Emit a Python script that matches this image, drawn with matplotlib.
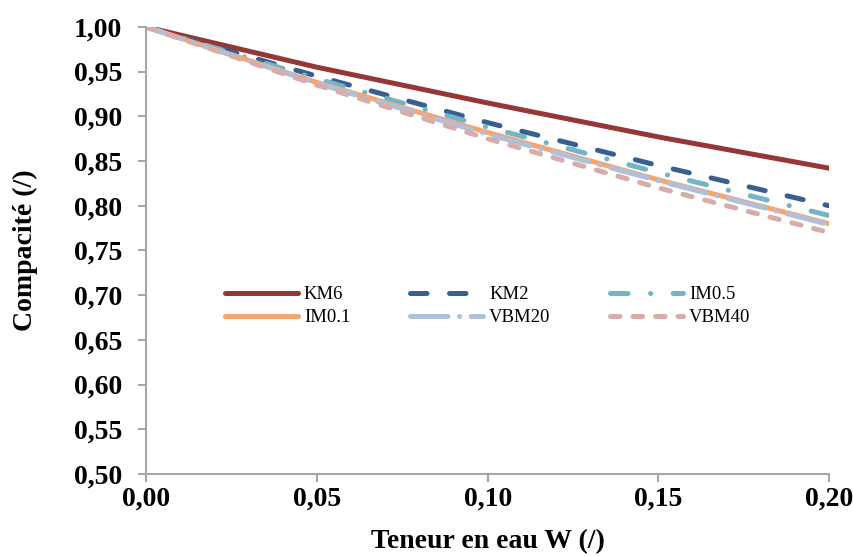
import matplotlib.pyplot as plt

plt.rcParams['font.family'] = ['Liberation Serif', 'DejaVu Serif']

# teneur en eau W
w = [0.00, 0.05, 0.10, 0.15, 0.20]

km6 = [1.000, 0.955, 0.915, 0.877, 0.842]
km2 = [1.000, 0.945, 0.893, 0.845, 0.800]
im05 = [1.000, 0.942, 0.888, 0.837, 0.789]
im01 = [1.000, 0.938, 0.882, 0.829, 0.780]
vbm20 = [1.000, 0.937, 0.880, 0.828, 0.779]
vbm40 = [1.000, 0.935, 0.875, 0.820, 0.770]

names = ["KM6", "KM2", "IM0.5", "IM0.1", "VBM20", "VBM40"]
series = [km6, km2, im05, im01, vbm20, vbm40]
colors = ["#953735", "#376092", "#72b4c8", "#f8a46e", "#b0c0da", "#d9aca9"]
dashes = [None, (3.3, 4.5), (3.5, 4.5, 0.05, 4.5), None,
          (7.5, 2.3, 0.05, 2.3), (1.9, 2.6)]

fig = plt.figure(figsize=(8.54, 5.56), dpi=100)
ax = fig.add_axes([0.171, 0.1475, 0.80, 0.804])

handles = []
for name, y, c, d in zip(names, series, colors, dashes):
    line, = ax.plot(w, y, color=c, lw=3.6, label=name, solid_capstyle='round',
                    dash_capstyle='round')
    if d is not None:
        line.set_dashes(d)
    handles.append(line)

ax.set_xlim(0, 0.20)
ax.set_ylim(0.50, 1.00)
ax.set_xticks([0.00, 0.05, 0.10, 0.15, 0.20])
ax.set_xticklabels(["0,00", "0,05", "0,10", "0,15", "0,20"])
yt = [0.50 + 0.05 * i for i in range(11)]
ax.set_yticks(yt)
ax.set_yticklabels([("%.2f" % v).replace(".", ",") for v in yt])

for s in ["top", "right"]:
    ax.spines[s].set_visible(False)
for s in ["left", "bottom"]:
    ax.spines[s].set_color("#a6a6a6")
    ax.spines[s].set_linewidth(1.5)
ax.tick_params(direction='out', length=6, width=1.5, color="#a6a6a6",
               labelsize=20)
ax.tick_params(axis='y', pad=11)
ax.tick_params(axis='x', pad=3)
for lab in ax.get_xticklabels() + ax.get_yticklabels():
    lab.set_fontweight("bold")

ax.set_xlabel("Teneur en eau W (/)", fontsize=20, fontweight="bold")
ax.set_ylabel("Compacité (/)", fontsize=20, fontweight="bold")
ax.xaxis.set_label_coords(0.5, -0.124)
ax.yaxis.set_label_coords(-0.158, 0.5)

# légende en lignes: KM6 KM2 IM0.5 / IM0.1 VBM20 VBM40
order = [0, 3, 1, 4, 2, 5]
ax.legend([handles[i] for i in order], [names[i] for i in order],
          ncol=3, frameon=False, fontsize=13.5, loc="upper left",
          bbox_to_anchor=(0.1157, 0.42), borderpad=0, borderaxespad=0,
          handlelength=3.9, handletextpad=0.3, columnspacing=3.2,
          labelspacing=0.3)

fig.savefig("out.png", dpi=100)
